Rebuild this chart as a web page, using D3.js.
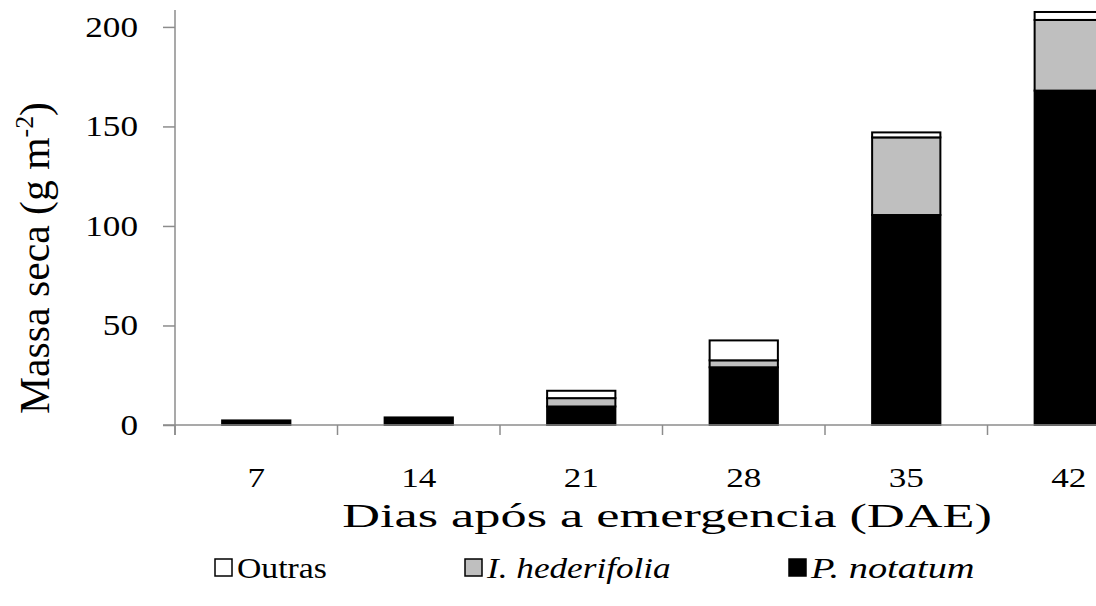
<!DOCTYPE html>
<html>
<head>
<meta charset="utf-8">
<script src="https://cdn.jsdelivr.net/npm/d3@7"></script>
<style>
  body { margin: 0; background: #fff; }
  text { font-family: "Liberation Serif", "Times New Roman", "DejaVu Serif", serif; fill: #000; }
</style>
</head>
<body>
<div class="chart"></div>
<script>
// values (g m-2)
const days = ['7', '14', '21', '28', '35', '42']
const pNotatum = [2.3, 3.8, 9.3, 29, 105.5, 168]
const iHederifolia = [0, 0, 4.2, 3.5, 39, 35.5]
const outras = [0, 0, 3.7, 10, 2.5, 4]
const yTicks = [0, 50, 100, 150, 200]
const seriesNames = ['P. notatum', 'I. hederifolia', 'Outras']
const legendOrder = ['Outras', 'I. hederifolia', 'P. notatum']

const width = 1096, height = 606
const colors = {'P. notatum': '#000000', 'I. hederifolia': '#bfbfbf', 'Outras': '#ffffff'}
const axisColor = '#8c8c8c'

const svg = d3.select('.chart').append('svg').attr('width', width).attr('height', height)

// the original is cropped on the right, so the band range runs past the frame
const x = d3.scaleBand().domain(days).range([175, 1150]).paddingInner(0.58).paddingOuter(0.29)
const y = d3.scaleLinear().domain([0, 208.5]).range([425, 10])

const table = days.map((d, i) => ({day: d, 'P. notatum': pNotatum[i], 'I. hederifolia': iHederifolia[i], 'Outras': outras[i]}))
const stacked = d3.stack().keys(seriesNames)(table)

// the source picture is stretched sideways, so each text is squeezed/stretched to the width it has there
function fit(sel, px, py, w, rot) {
  const natural = sel.node().getBBox().width
  sel.attr('transform', `translate(${px},${py})${rot ? ` rotate(${rot})` : ''} scale(${w / natural},1)`)
  return sel
}
function label(g, str, px, py, size, w, anchor, italic) {
  const t = g.append('text')
    .attr('font-size', size)
    .attr('text-anchor', anchor)
    .attr('font-style', italic ? 'italic' : 'normal')
    .text(str)
  return fit(t, px, py, w)
}

// bars
svg.append('g').selectAll('g')
  .data(stacked)
  .join('g')
  .attr('fill', d => colors[d.key])
  .selectAll('rect')
  .data(d => d.filter(s => s[1] - s[0] > 0))
  .join('rect')
  .attr('x', d => x(d.data.day))
  .attr('width', x.bandwidth())
  .attr('y', d => y(d[1]))
  .attr('height', d => y(d[0]) - y(d[1]))
  .attr('stroke', '#000')
  .attr('stroke-width', 2)

// y axis
const yAxis = svg.append('g')
  .attr('transform', 'translate(175,0)')
  .call(d3.axisLeft(y).tickValues(yTicks).tickSize(12).tickFormat(''))
yAxis.select('.domain').attr('stroke', axisColor).attr('stroke-width', 1.5).attr('d', `M0,${y(208.5)}V${y(0) + 10}`)
yAxis.selectAll('.tick line').attr('stroke', axisColor).attr('stroke-width', 1.5)
yTicks.forEach(v => label(svg, v, 138, y(v) + 10, 29, 17.6 * String(v).length, 'end'))

// x axis: ticks sit on the band edges
const xAxis = svg.append('g').attr('transform', `translate(0,${y(0)})`)
xAxis.append('path').attr('d', `M163,0H${width}`).attr('stroke', axisColor).attr('stroke-width', 1.5)
const edges = days.map(d => x(d) - x.step() * x.paddingInner() / 2)
xAxis.selectAll('line.edge')
  .data(edges)
  .join('line')
  .attr('class', 'edge')
  .attr('x1', d => d).attr('x2', d => d)
  .attr('y1', 0).attr('y2', 10)
  .attr('stroke', axisColor).attr('stroke-width', 1.5)
days.forEach(d => label(svg, d, x(d) + x.bandwidth() / 2, 487, 28, 17.6 * d.length, 'middle'))

// axis titles
label(svg, 'Dias após a emergencia (DAE)', 667, 527, 34, 650, 'middle')
const yt = svg.append('text')
  .attr('font-size', 42)
  .attr('text-anchor', 'middle')
yt.append('tspan').text('Massa seca (g m')
yt.append('tspan').attr('font-size', 26).attr('dy', -16).text('-2')
yt.append('tspan').attr('dy', 16).text(')')
fit(yt, 49, 258, 312, -90)

// legend
const legendX = [215, 465, 789]
const legendW = [90, 185, 165]
const legend = svg.append('g')
legendOrder.forEach((name, i) => {
  legend.append('rect')
    .attr('x', legendX[i]).attr('y', 559)
    .attr('width', 17).attr('height', 17)
    .attr('fill', colors[name]).attr('stroke', '#000').attr('stroke-width', 1.5)
  label(legend, name, legendX[i] + 22, 578, 29, legendW[i], 'start', name !== 'Outras')
})
</script>
</body>
</html>
